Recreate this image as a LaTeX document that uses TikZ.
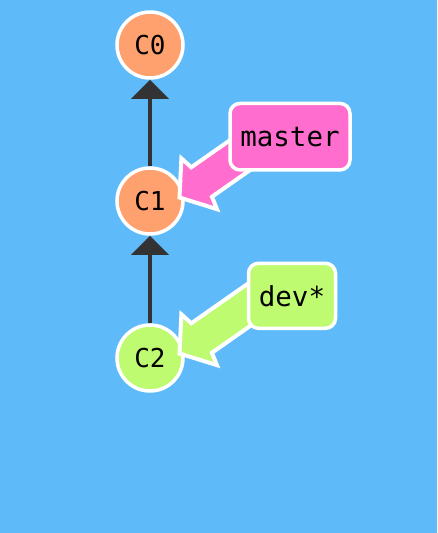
\documentclass[tikz,border=0pt]{standalone}
\usepackage{fontspec}
\setmonofont{DejaVu Sans Mono}
\usetikzlibrary{arrows.meta,calc}
\definecolor{bg}{HTML}{5FBAF9}
\definecolor{corange}{HTML}{FFA16E}
\definecolor{cgreen}{HTML}{BFFB70}
\definecolor{cpink}{HTML}{FF6ECF}
\definecolor{cdark}{HTML}{333333}
\tikzset{
  commit/.style={circle, draw=white, line width=3.5pt, minimum size=66pt, inner sep=0pt,
    font=\fontsize{26}{30}\selectfont\ttfamily, text=black},
  branch/.style={rectangle, rounded corners=10pt, draw=white, line width=3.5pt, inner sep=0pt,
    font=\fontsize{27.5}{30}\selectfont\ttfamily, text=black},
  parent/.style={draw=cdark, line width=4pt, -{Triangle[length=19pt,width=37pt]}},
  fatarrow/.style={draw=white, line width=4pt, line join=miter, miter limit=10}
}
\begin{document}
\begin{tikzpicture}[x=1pt,y=-1pt]
\fill[bg] (0,0) rectangle (437,533);
\useasboundingbox (0,0) rectangle (437,533);
% commits
\node[commit, fill=corange] (C0) at (150,45) {C0};
\node[commit, fill=corange] (C1) at (150,201) {C1};
\node[commit, fill=cgreen] (C2) at (150,358) {C2};
\draw[parent] (C1) -- (C0);
\draw[parent] (C2) -- (C1);
% branch pointers
\coordinate (tipM) at ($(C1)+(29.5,-3.5)$);
\coordinate (tipD) at ($(C2)+(29.5,-4.5)$);
\begin{scope}[shift={(tipM)}, rotate=35]
  \filldraw[fatarrow, fill=cpink] (0,0) -- (24,31) -- (27,18) -- (85,18) -- (85,-18) -- (27,-18) -- (24,-31) -- cycle;
\end{scope}
\begin{scope}[shift={(tipD)}, rotate=35]
  \filldraw[fatarrow, fill=cgreen] (0,0) -- (24,31) -- (27,18) -- (100,18) -- (100,-18) -- (27,-18) -- (24,-31) -- cycle;
\end{scope}
\node[branch, fill=cpink, minimum width=120pt, minimum height=66.5pt] (master) at (290,136.7) {master};
\node[branch, fill=cgreen, minimum width=87pt, minimum height=65pt] (dev) at (292,295.8) {dev*};
\end{tikzpicture}
\end{document}
